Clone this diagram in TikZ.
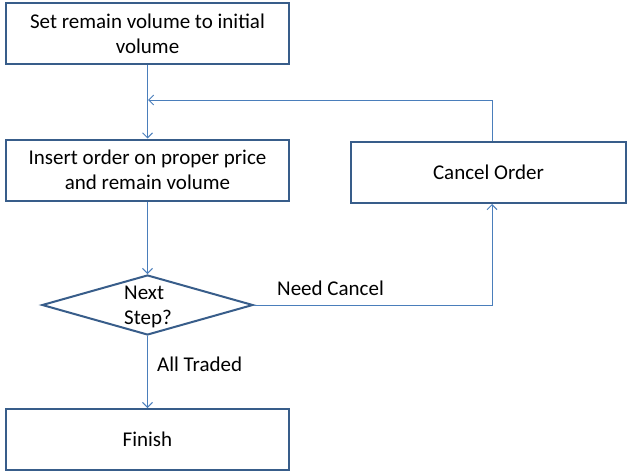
\documentclass[tikz,border=0pt]{standalone}
\usepackage{fontspec}
\setmainfont{Carlito}
\usetikzlibrary{arrows.meta,shapes.geometric}
\definecolor{boxline}{HTML}{385D8A}
\definecolor{flowline}{HTML}{4A7EBB}
\tikzset{
  txt/.style={font=\fontsize{21}{25}\selectfont},
  stepbox/.style={txt, draw=boxline, line width=2pt, fill=white, minimum width=283pt,
    minimum height=61pt, inner sep=0pt, align=center},
  decision/.style={draw=boxline, line width=2pt, fill=white, shape=diamond,
    minimum width=211pt, minimum height=60pt, inner sep=0pt},
  flow/.style={draw=flowline, line width=1pt, -{Straight Barb[length=5pt,width=10pt]}},
  plainflow/.style={draw=flowline, line width=1pt},
  lbl/.style={txt, inner sep=0pt}
}
\begin{document}
\begin{tikzpicture}[x=1pt,y=-1pt]
\useasboundingbox (0,0) rectangle (627,471);
\node[stepbox] (init) at (147.5,33.5) {Set remain volume to initial\\volume};
\node[stepbox] (insert) at (147.5,170) {Insert order on proper price\\and remain volume};
\node[stepbox, minimum width=275pt] (cancel) at (488.5,172.5) {Cancel Order};
\node[decision] (next) at (147.5,305) {};
\node[lbl, align=left, anchor=west] (nexttext) at (124,307) {Next\\Step?};
\node[stepbox] (finish) at (147.5,439.5) {Finish};
\coordinate (join) at (492,305);
\coordinate (up) at (492,100);
\coordinate (back) at (148,100);
% main sequence
\draw[flow] (init.south) -- (insert.north);
\draw[flow] (insert.south) -- (next.north);
\draw[flow] (next.south) -- (finish.north);
\node[lbl, anchor=west] (traded) at (157,364) {All Traded};
% cancel branch
\draw[flow] (next.east) -- (join) -- (cancel.south -| join);
\node[lbl, anchor=west] (needc) at (277,288) {Need Cancel};
\draw[plainflow] (cancel.north -| up) -- (up);
\draw[flow] (up) -- (back);
\end{tikzpicture}
\end{document}
